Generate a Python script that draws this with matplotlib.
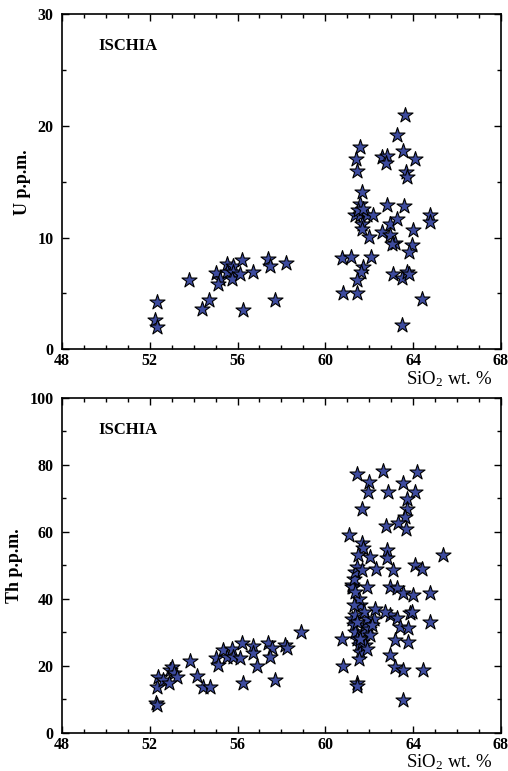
import numpy as np
import matplotlib
import matplotlib.pyplot as plt
from matplotlib.ticker import MultipleLocator

matplotlib.use('agg')

plt.rcParams['font.family'] = ['Liberation Serif', 'DejaVu Serif']
plt.rcParams['mathtext.fontset'] = 'custom'
plt.rcParams['mathtext.rm'] = 'Liberation Serif'
plt.rcParams['mathtext.it'] = 'Liberation Serif:italic'
plt.rcParams['mathtext.bf'] = 'Liberation Serif:bold'

# U (p.p.m.) vs SiO2 (wt. %)
u_sio2 = [52.31, 52.24, 52.31, 53.80, 54.36, 54.70, 55.02, 55.20, 55.12, 55.50,
          55.50, 55.78, 55.80, 55.73, 56.10, 56.19, 56.72, 56.26, 57.40, 57.48,
          57.70, 58.20, 60.74, 61.17, 62.10, 61.70, 61.62, 61.45, 60.79, 61.43,
          63.10, 63.48, 63.70, 63.82, 64.39, 63.50, 63.63, 63.28, 61.60, 61.42,
          61.45, 62.60, 62.82, 62.76, 63.52, 64.08, 63.67, 63.70, 61.65, 61.60,
          61.35, 61.58, 61.88, 62.15, 61.65, 61.65, 62.82, 63.60, 62.00, 62.60,
          62.94, 63.28, 62.94, 63.17, 63.06, 64.00, 63.97, 63.82, 64.77, 64.77,
          61.50, 61.70]
u_ppm = [4.24, 2.60, 2.00, 6.24, 3.64, 4.39, 6.83, 6.32, 5.87, 7.67,
         6.92, 7.43, 6.92, 6.32, 6.71, 7.97, 6.92, 3.49, 8.10, 7.43,
         4.39, 7.76, 8.17, 8.30, 8.27, 7.37, 6.90, 6.20, 5.00, 5.04,
         6.77, 6.42, 6.92, 6.77, 4.48, 2.20, 20.95, 19.20, 18.10, 17.00,
         16.00, 17.20, 17.30, 16.70, 17.75, 17.06, 15.90, 15.45, 14.10, 13.00,
         12.00, 12.00, 12.00, 12.00, 11.25, 10.80, 12.90, 12.80, 10.05, 10.50,
         11.25, 11.70, 10.20, 9.55, 9.45, 10.70, 9.37, 8.70, 12.00, 11.40,
         12.50, 12.60]

# Th (p.p.m.) vs SiO2 (wt. %)
th_sio2 = [52.28, 52.31, 52.31, 52.39, 52.92, 53.00, 53.10, 53.25, 52.62, 52.89,
           53.83, 54.16, 54.41, 54.74, 55.02, 55.12, 55.32, 55.50, 55.73, 55.80,
           56.11, 56.19, 56.72, 56.72, 56.87, 56.26, 57.40, 57.55, 57.48, 57.70,
           58.16, 58.24, 58.87,
           60.74, 60.82, 61.43, 61.45, 61.09, 61.45, 62.61, 64.19, 62.00, 63.52,
           61.96, 62.87, 64.08, 63.73, 63.73, 61.65, 63.63, 62.76, 63.32, 63.67,
           61.65, 61.73, 61.50, 62.03, 62.79, 62.82, 65.37, 62.32, 63.07, 64.08,
           64.39, 61.20, 61.27, 61.88, 62.94, 63.25, 63.55, 64.00, 64.77, 63.86,
           63.93, 64.77, 62.94, 63.25, 62.71, 63.40, 63.78, 63.17, 63.78, 62.94,
           63.17, 63.55, 64.43, 63.55,
           61.21, 61.29, 61.36, 61.44, 61.67, 61.21, 61.29, 61.36, 61.44, 61.52,
           61.59, 61.67, 61.74, 61.82, 61.90, 61.97, 62.05, 61.59, 61.52, 61.74,
           61.82, 61.90, 62.20, 62.12, 62.27, 61.36, 61.44, 61.29, 61.52, 61.59,
           61.36]
th_ppm = [9.0, 8.4, 13.8, 16.8, 18.8, 19.8, 17.8, 16.8, 15.8, 14.8,
          21.6, 17.0, 13.6, 13.6, 22.3, 20.3, 24.8, 22.8, 25.0, 22.8,
          22.3, 26.8, 26.0, 23.8, 20.0, 15.0, 26.8, 25.3, 22.8, 15.8,
          26.3, 25.3, 30.2,
          28.2, 20.0, 14.8, 14.0, 59.1, 77.2, 78.3, 78.0, 75.0, 74.7,
          72.0, 72.0, 72.0, 69.7, 67.0, 67.0, 64.6, 61.8, 62.6, 60.8,
          56.6, 55.1, 53.1, 52.6, 54.6, 52.1, 53.1, 49.1, 48.7, 50.1,
          49.1, 44.2, 43.7, 43.7, 43.7, 43.2, 41.7, 41.2, 41.9, 35.7,
          36.2, 33.0, 35.2, 34.2, 36.2, 31.7, 31.2, 27.9, 27.3, 23.3,
          19.8, 18.8, 18.8, 9.85,
          43.6, 46.1, 48.1, 49.6, 48.6, 34.1, 32.1, 30.1, 28.2, 26.2,
          24.2, 27.2, 30.1, 32.1, 34.1, 31.1, 29.2, 38.1, 40.1, 36.1,
          26.2, 25.2, 34.1, 32.1, 37.1, 35.1, 33.1, 38.1, 22.2, 28.2,
          42.1]

FILL = '#3d4b9e'

fig = plt.figure(figsize=(5.08, 7.71), dpi=100)
ax_u = fig.add_axes([0.122, 0.547, 0.864, 0.4345])
ax_th = fig.add_axes([0.122, 0.0493, 0.864, 0.4345])


def style_axes(ax, ymax, ymajor, yminor, ylabel):
    ax.set_xlim(48, 68)
    ax.set_ylim(0, ymax)
    ax.xaxis.set_major_locator(MultipleLocator(4))
    ax.xaxis.set_minor_locator(MultipleLocator(1))
    ax.yaxis.set_major_locator(MultipleLocator(ymajor))
    ax.yaxis.set_minor_locator(MultipleLocator(yminor))
    ax.tick_params(which='both', direction='in', top=True, right=True,
                   width=1.0, labelsize=11.5)
    ax.tick_params(which='major', length=5)
    ax.tick_params(which='minor', length=3)
    ax.tick_params(axis='x', pad=3)
    ax.tick_params(axis='y', pad=6)
    for lab in ax.get_xticklabels() + ax.get_yticklabels():
        lab.set_fontweight('bold')
    for sp in ax.spines.values():
        sp.set_linewidth(1.2)
    ax.set_ylabel(ylabel, fontsize=13, fontweight='bold', labelpad=5)
    ax.text(0.082, 0.905, 'ISCHIA', transform=ax.transAxes, fontsize=12,
            fontweight='bold', va='center', ha='left')
    ax.text(0.98, -0.088, r'SiO$_\mathrm{2}$ wt. %', transform=ax.transAxes,
            fontsize=13.5, ha='right', va='center')


ax_u.scatter(u_sio2, u_ppm, marker='*', s=130, c=FILL, edgecolors='black',
             linewidths=0.8, zorder=3)
ax_th.scatter(th_sio2, th_ppm, marker='*', s=130, c=FILL, edgecolors='black',
              linewidths=0.8, zorder=3)

style_axes(ax_u, 30, 10, 5, 'U p.p.m.')
style_axes(ax_th, 100, 20, 10, 'Th p.p.m.')

fig.savefig('out.png', dpi=100)
